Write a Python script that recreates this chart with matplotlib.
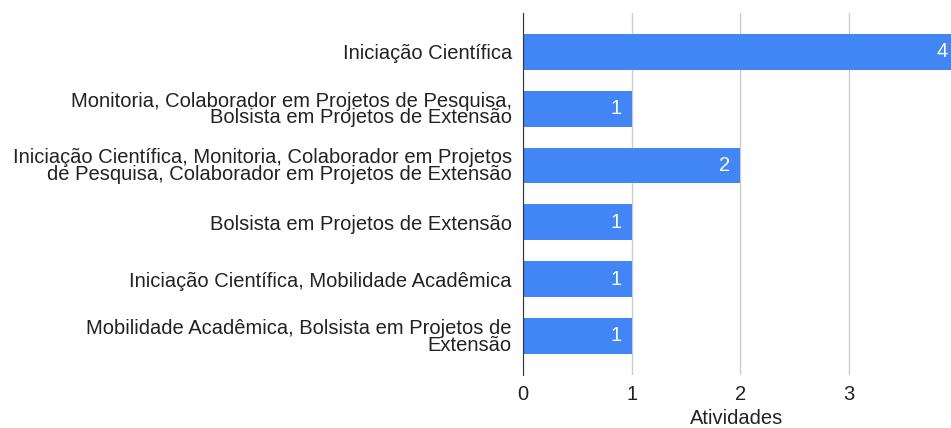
import matplotlib.pyplot as plt

plt.rcParams['font.family'] = ['Liberation Sans', 'DejaVu Sans']

# categorias (de cima para baixo) e quantidade de atividades
categorias = [
    "Iniciação Científica",
    "Monitoria, Colaborador em Projetos de Pesquisa,\nBolsista em Projetos de Extensão",
    "Iniciação Científica, Monitoria, Colaborador em Projetos\nde Pesquisa, Colaborador em Projetos de Extensão",
    "Bolsista em Projetos de Extensão",
    "Iniciação Científica, Mobilidade Acadêmica",
    "Mobilidade Acadêmica, Bolsista em Projetos de\nExtensão",
]
valores = [4, 1, 2, 1, 1, 1]
ticks_x = [0, 1, 2, 3]

fs = 14.5
cor_texto = "#222222"

fig = plt.figure(figsize=(9.51, 4.28), dpi=100)
ax = fig.add_axes([0.55, 0.124, 0.45, 0.846])

pos = list(range(len(categorias)))
ax.barh(pos, valores, height=0.63, color="#4285F4", zorder=2)

# rótulos de valor dentro das barras
for p, v in zip(pos, valores):
    ax.annotate(str(v), (v, p), xytext=(-7, 0), textcoords="offset points",
                ha="right", va="center", color="white", fontsize=fs,
                zorder=3, annotation_clip=False)

ax.set_ylim(5.687, -0.687)
ax.set_xlim(0, 3.94)
ax.set_yticks(pos)
ax.set_yticklabels(categorias, fontsize=fs, color=cor_texto, linespacing=0.85)
ax.set_xticks(ticks_x)
ax.set_xticklabels([str(t) for t in ticks_x], fontsize=fs, color=cor_texto)
ax.set_xlabel("Atividades", fontsize=fs, color=cor_texto, labelpad=3.5)

ax.grid(axis="x", color="#cccccc", linewidth=1, zorder=0)
for s in ["top", "right", "bottom"]:
    ax.spines[s].set_visible(False)
ax.spines["left"].set_color("#333333")
ax.tick_params(axis="y", length=0, pad=8)
ax.tick_params(axis="x", length=0, pad=7)

fig.savefig("out.png", dpi=100)
